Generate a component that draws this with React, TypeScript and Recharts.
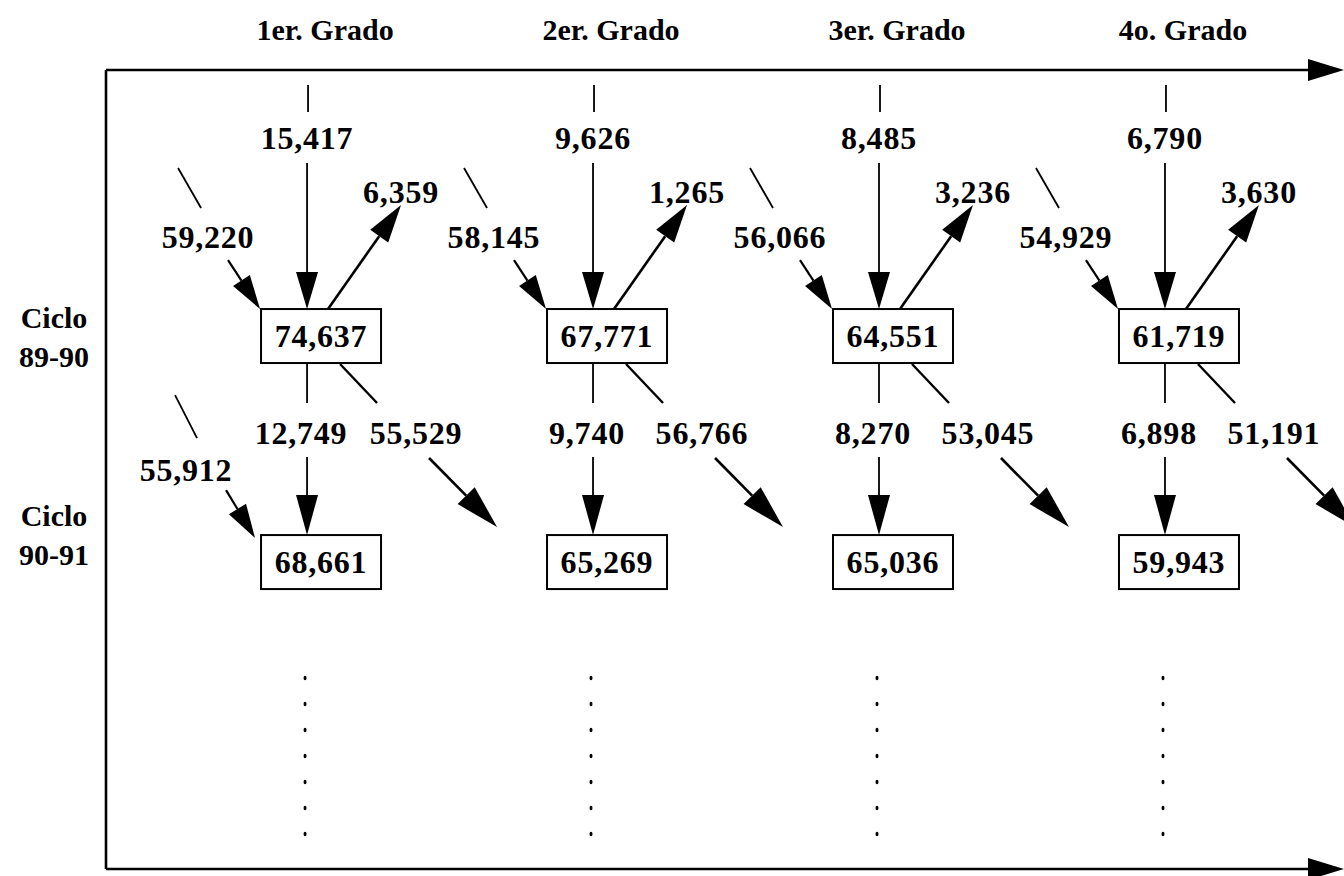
import React from "react";
import { ComposedChart, Scatter, XAxis, YAxis, ReferenceLine } from "recharts";

// Flujo de matrícula por grado, ciclos 89-90 y 90-91
const grados = ["1er. Grado", "2er. Grado", "3er. Grado", "4o. Grado"];
const ciclos = ["89-90", "90-91"];
const matricula8990 = [74637, 67771, 64551, 61719];
const matricula9091 = [68661, 65269, 65036, 59943];
const repetidoresPrevios = [15417, 9626, 8485, 6790];
const ingresoPromovidos = [59220, 58145, 56066, 54929];
const desertores = [6359, 1265, 3236, 3630];
const repetidores = [12749, 9740, 8270, 6898];
const promovidos = [55529, 56766, 53045, 51191];
const nuevoIngreso9091 = [55912];

const W = 1344;
const H = 876;
const X_MIN = -0.703;
const X_MAX = 3.626;
const Y_MIN = -1.177;
const Y_MAX = 2.358;
const ROW_GAP = 226;
const FONT = "'Liberation Serif', 'Times New Roman', serif";

const fmt = (v: number) => v.toLocaleString("en-US");

const filaSuperior = grados.map((_, i) => ({
    g: i,
    r: 0,
    total: matricula8990[i],
    arriba: repetidoresPrevios[i],
    izquierda: ingresoPromovidos[i],
    salida: desertores[i],
    abajo: repetidores[i],
    diagonal: promovidos[i],
}));

const filaInferior = grados.map((_, i) => ({
    g: i,
    r: 1,
    total: matricula9091[i],
    izquierda: nuevoIngreso9091[i],
}));

// numbers are set a bit wider than the labels
function Texto({ x, y, children, size = 32, spacing = 0.8 }: any) {
    return (
        <text
            x={x}
            y={y}
            textAnchor="middle"
            fontFamily={FONT}
            fontSize={size}
            fontWeight="bold"
            letterSpacing={spacing}
            fill="#000"
        >
            {children}
        </text>
    );
}

function Flecha({ x1, y1, x2, y2, w = 1.8, len = 36, half = 11 }: any) {
    const dx = x2 - x1;
    const dy = y2 - y1;
    const d = Math.hypot(dx, dy);
    const ux = dx / d;
    const uy = dy / d;
    const bx = x2 - ux * len;
    const by = y2 - uy * len;
    const px = -uy * half;
    const py = ux * half;
    return (
        <g>
            <line x1={x1} y1={y1} x2={bx} y2={by} stroke="#000" strokeWidth={w} />
            <polygon points={`${x2},${y2} ${bx + px},${by + py} ${bx - px},${by - py}`} fill="#000" />
        </g>
    );
}

function Caja({ cx, cy, value }: any) {
    return (
        <g>
            <rect x={cx + 14 - 60} y={cy - 27} width={120} height={54} fill="#fff" stroke="#000" strokeWidth={2} />
            <Texto x={cx + 14} y={cy + 11}>{fmt(value)}</Texto>
        </g>
    );
}

function NodoSuperior(props: any) {
    const { cx, cy, payload } = props;
    const y2 = cy + ROW_GAP;
    return (
        <g>
            {/* repetidores que entran */}
            <line x1={cx + 1} y1={cy - 251} x2={cx + 1} y2={cy - 224} stroke="#000" strokeWidth={1.8} />
            <Texto x={cx} y={cy - 187}>{fmt(payload.arriba)}</Texto>
            <Flecha x1={cx} y1={cy - 173} x2={cx} y2={cy - 27} len={37} />
            {/* promovidos / nuevo ingreso */}
            <line x1={cx - 129} y1={cy - 168} x2={cx - 106} y2={cy - 128} stroke="#000" strokeWidth={1.8} />
            <Texto x={cx - 99} y={cy - 88}>{fmt(payload.izquierda)}</Texto>
            <Flecha x1={cx - 79} y1={cy - 76} x2={cx - 47} y2={cy - 27} w={2.2} len={34} half={10} />
            {/* desertores */}
            <Flecha x1={cx + 21} y1={cy - 27} x2={cx + 94} y2={cy - 131} w={2.6} len={38} half={11} />
            <Texto x={cx + 94} y={cy - 133}>{fmt(payload.salida)}</Texto>
            <Caja cx={cx} cy={cy} value={payload.total} />
            {/* salida hacia el ciclo siguiente */}
            <line x1={cx} y1={cy + 27} x2={cx} y2={cy + 67} stroke="#000" strokeWidth={1.8} />
            <line x1={cx + 33} y1={cy + 28} x2={cx + 70} y2={cy + 67} stroke="#000" strokeWidth={2.4} />
            <Texto x={cx - 6} y={cy + 108}>{fmt(payload.abajo)}</Texto>
            <Texto x={cx + 109} y={cy + 108}>{fmt(payload.diagonal)}</Texto>
            <Flecha x1={cx} y1={cy + 121} x2={cx} y2={y2 - 27} len={40} half={11} />
            <Flecha x1={cx + 122} y1={cy + 122} x2={cx + 190} y2={cy + 191} w={2.6} len={44} half={12} />
        </g>
    );
}

function NodoInferior(props: any) {
    const { cx, cy, payload } = props;
    const puntos = [0, 1, 2, 3, 4, 5, 6];
    return (
        <g>
            {payload.izquierda != null && (
                <g>
                    <line x1={cx - 132} y1={cy - 167} x2={cx - 110} y2={cy - 124} stroke="#000" strokeWidth={1.8} />
                    <Texto x={cx - 121} y={cy - 81}>{fmt(payload.izquierda)}</Texto>
                    <Flecha x1={cx - 81} y1={cy - 72} x2={cx - 52} y2={cy - 24} w={2.2} len={34} half={10} />
                </g>
            )}
            <Caja cx={cx} cy={cy} value={payload.total} />
            {puntos.map((k) => (
                <ellipse key={k} cx={cx - 2} cy={cy + 116 + k * 26} rx={1.5} ry={2.2} fill="#000" />
            ))}
        </g>
    );
}

function Marco({ x1, y1, x2, y2, flecha }: any) {
    if (!flecha) {
        return <line x1={x1} y1={y1} x2={x2} y2={y2} stroke="#000" strokeWidth={2.6} />;
    }
    return <Flecha x1={x1} y1={y1} x2={x2} y2={y2} w={2.6} len={36} half={11} />;
}

function GradoTick({ x, payload }: any) {
    return (
        <Texto x={x + 18} y={40} size={30} spacing={0}>
            {grados[payload.value]}
        </Texto>
    );
}

function CicloTick({ y, payload }: any) {
    const shift = payload.value === 0 ? 0 : -28;
    return (
        <g>
            <Texto x={54} y={y - 8 + shift} size={30} spacing={0}>Ciclo</Texto>
            <Texto x={54} y={y + 31 + shift} size={30} spacing={0}>{ciclos[payload.value]}</Texto>
        </g>
    );
}

export default function App() {
    return (
        <div style={{ position: "absolute", left: 0, top: 0, width: W, height: H, background: "#fff" }}>
            <ComposedChart width={W} height={H} margin={{ top: 0, right: 0, bottom: 7, left: 0 }}>
                <XAxis
                    xAxisId="g"
                    type="number"
                    dataKey="g"
                    orientation="top"
                    height={70}
                    domain={[X_MIN, X_MAX]}
                    allowDataOverflow
                    ticks={[0, 1, 2, 3]}
                    tick={<GradoTick />}
                    tickLine={false}
                    axisLine={false}
                />
                <YAxis
                    yAxisId="r"
                    type="number"
                    dataKey="r"
                    width={106}
                    reversed
                    domain={[Y_MIN, Y_MAX]}
                    allowDataOverflow
                    ticks={[0, 1]}
                    tick={<CicloTick />}
                    tickLine={false}
                    axisLine={false}
                />
                <ReferenceLine
                    xAxisId="g"
                    yAxisId="r"
                    ifOverflow="visible"
                    segment={[{ x: X_MIN, y: Y_MIN }, { x: X_MAX, y: Y_MIN }]}
                    shape={(p: any) => <Marco {...p} flecha />}
                />
                <ReferenceLine
                    xAxisId="g"
                    yAxisId="r"
                    ifOverflow="visible"
                    segment={[{ x: X_MIN, y: Y_MIN }, { x: X_MIN, y: Y_MAX }]}
                    shape={(p: any) => <Marco {...p} />}
                />
                <ReferenceLine
                    xAxisId="g"
                    yAxisId="r"
                    ifOverflow="visible"
                    segment={[{ x: X_MIN, y: Y_MAX }, { x: X_MAX, y: Y_MAX }]}
                    shape={(p: any) => <Marco {...p} flecha />}
                />
                <Scatter
                    xAxisId="g"
                    yAxisId="r"
                    data={filaSuperior}
                    dataKey="r"
                    isAnimationActive={false}
                    shape={(p: any) => <NodoSuperior {...p} />}
                />
                <Scatter
                    xAxisId="g"
                    yAxisId="r"
                    data={filaInferior}
                    dataKey="r"
                    isAnimationActive={false}
                    shape={(p: any) => <NodoInferior {...p} />}
                />
            </ComposedChart>
        </div>
    );
}
